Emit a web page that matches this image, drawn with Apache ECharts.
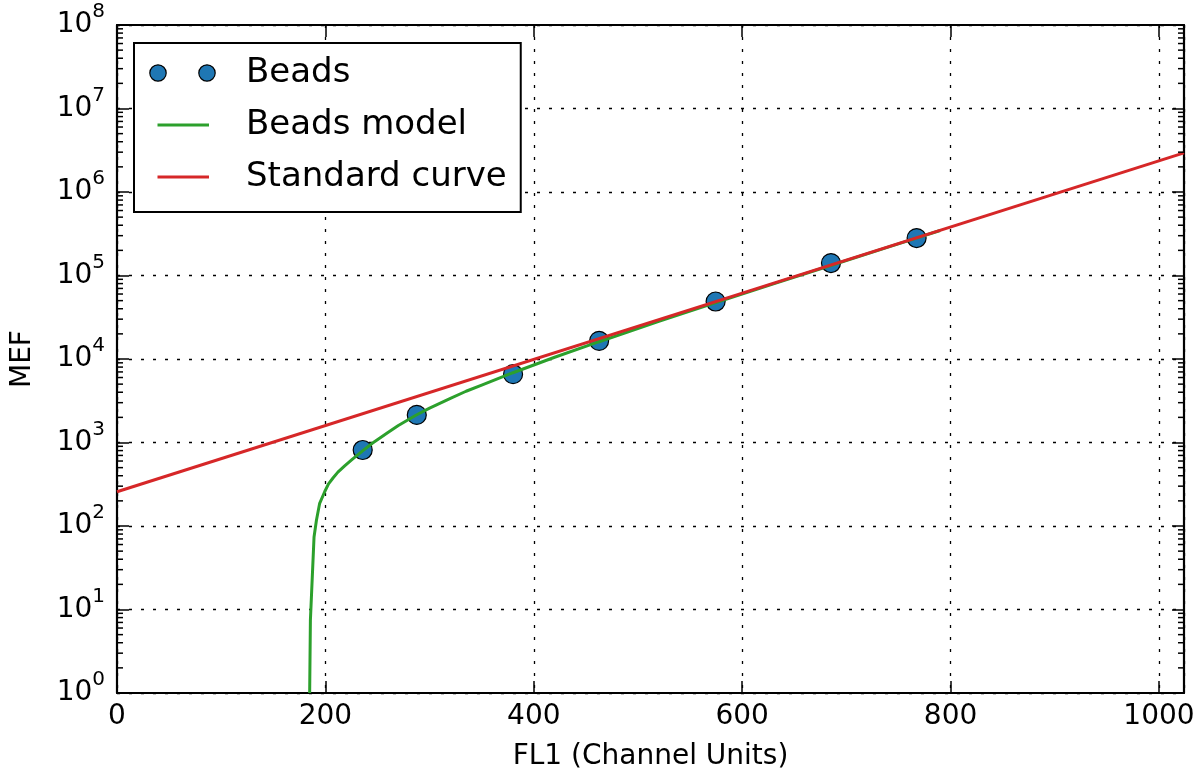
<!DOCTYPE html>
<html>
<head>
<meta charset="utf-8">
<title>Bead calibration</title>
<script src="https://cdn.jsdelivr.net/npm/echarts@6/dist/echarts.min.js"></script>
<style>
  html, body { margin: 0; padding: 0; background: #fff; }
  #chart { width: 1204px; height: 776px; }
</style>
</head>
<body>
<div id="chart"></div>
<script>
// Calibration beads: measured FL1 channel vs. MEF
const beadsFL1 = [235.8, 287.7, 380.1, 462.7, 574.5, 685.2, 767.4];
const beadsMEF = [813, 2140, 6580, 16500, 48800, 141000, 281000];

// Fitted bead model (includes autofluorescence offset)
const modelFL1 = [184.9, 185.6, 189.1, 191.4, 194.5, 199.3, 203, 207.3, 212, 218.5, 226, 236, 245, 260, 270, 287.7, 300, 320, 335, 350, 380, 420, 462, 520, 574, 630, 685, 740, 790];
const modelMEF = [1, 7.4, 74, 117, 187, 257, 320, 376, 442, 525, 631, 800, 980, 1320, 1600, 2150, 2580, 3370, 4110, 4870, 6850, 10500, 16000, 28200, 47000, 79300, 131800, 218600, 346000];

// Standard curve (straight line on log scale)
const standardFL1 = [0, 1024];
const standardMEF = [257, 2940000];

// Axis ticks
const xTickStep = 200;
const minorMantissas = [2, 3, 4, 5, 6, 7, 8, 9];
const decadeExponents = [0, 1, 2, 3, 4, 5, 6, 7];

const FONT = 'DejaVu Sans';
const BLUE = '#1f77b4', GREEN = '#2ca02c', RED = '#d62728';

const zip = (xs, ys) => xs.map((x, i) => [x, ys[i]]);

const minorTickValues = [];
decadeExponents.forEach(e => minorMantissas.forEach(m => minorTickValues.push([0, m * Math.pow(10, e)])));

function svgIcon(body) {
  const svg = '<svg xmlns="http://www.w3.org/2000/svg" width="68" height="18" viewBox="0 0 68 18">' + body + '</svg>';
  return 'image://data:image/svg+xml;charset=utf-8,' + encodeURIComponent(svg);
}
const beadsIcon = svgIcon(
  '<circle cx="9" cy="9" r="8.2" fill="' + BLUE + '" stroke="#000" stroke-width="1.2"/>' +
  '<circle cx="58" cy="9" r="8.2" fill="' + BLUE + '" stroke="#000" stroke-width="1.2"/>');
const modelIcon = svgIcon('<line x1="8.5" y1="9" x2="60" y2="9" stroke="' + GREEN + '" stroke-width="3"/>');
const stdIcon = svgIcon('<line x1="8.5" y1="9" x2="60" y2="9" stroke="' + RED + '" stroke-width="3"/>');

const gridLine = { show: true, lineStyle: { color: '#000', width: 1.3, type: [3, 9] } };
const frameLine = { show: true, onZero: false, lineStyle: { color: '#000', width: 2.2 } };
const majorTick = { show: true, inside: true, length: 12, lineStyle: { color: '#000', width: 1.5 } };

const chart = echarts.init(document.getElementById('chart'), null, { renderer: 'canvas' });

chart.setOption({
  animation: false,
  backgroundColor: '#fff',
  textStyle: { fontFamily: FONT },
  grid: { left: 117, right: 20, top: 25, bottom: 83, containLabel: false, outerBoundsMode: 'none' },
  xAxis: [
    {
      type: 'value', min: 0, max: 1024, interval: xTickStep, position: 'bottom',
      name: 'FL1 (Channel Units)', nameLocation: 'middle', nameGap: 50,
      nameTextStyle: { fontSize: 28, color: '#000', fontFamily: FONT },
      axisLine: frameLine, axisTick: majorTick, splitLine: gridLine,
      axisLabel: { fontSize: 28, color: '#000', fontFamily: FONT, margin: 10, showMaxLabel: false, formatter: v => String(v) }
    },
    {
      type: 'value', min: 0, max: 1024, interval: xTickStep, position: 'top',
      axisLine: frameLine, axisTick: majorTick, splitLine: { show: false }, axisLabel: { show: false }
    }
  ],
  yAxis: [
    {
      type: 'log', logBase: 10, min: 1, max: 1e8, interval: 1, position: 'left',
      name: 'MEF', nameLocation: 'middle', nameGap: 80, nameRotate: 90,
      nameTextStyle: { fontSize: 28, color: '#000', fontFamily: FONT },
      axisLine: frameLine, axisTick: majorTick, splitLine: gridLine,
      axisLabel: {
        margin: 12, color: '#000', fontFamily: FONT,
        formatter: v => '{b|10}{e|' + Math.round(Math.log10(v)) + '}',
        rich: {
          b: { fontSize: 28, fontFamily: FONT, color: '#000' },
          e: { fontSize: 20, fontFamily: FONT, color: '#000', padding: [0, 0, 26, 0] }
        }
      }
    },
    {
      type: 'log', logBase: 10, min: 1, max: 1e8, interval: 1, position: 'right',
      axisLine: frameLine, axisTick: majorTick, splitLine: { show: false }, axisLabel: { show: false }
    }
  ],
  legend: {
    orient: 'vertical', left: 134, top: 43,
    padding: [10, 14, 15, 15], itemGap: 12,
    itemWidth: 68, itemHeight: 18,
    backgroundColor: '#fff', borderColor: '#000', borderWidth: 2, borderRadius: 0,
    textStyle: { fontSize: 34, lineHeight: 40, color: '#000', fontFamily: FONT, padding: [0, 0, 0, 24] },
    selectedMode: false,
    data: [
      { name: 'Beads', icon: beadsIcon },
      { name: 'Beads model', icon: modelIcon },
      { name: 'Standard curve', icon: stdIcon }
    ]
  },
  series: [
    {
      name: 'minor ticks', type: 'custom', silent: true, z: 5,
      xAxisIndex: 0, yAxisIndex: 0,
      data: minorTickValues,
      renderItem: (params, api) => {
        const cs = params.coordSys;
        const y = api.coord([0, api.value(1)])[1];
        const st = { stroke: '#000', lineWidth: 1.5 };
        return {
          type: 'group',
          children: [
            { type: 'line', shape: { x1: cs.x, y1: y, x2: cs.x + 6, y2: y }, style: st },
            { type: 'line', shape: { x1: cs.x + cs.width - 6, y1: y, x2: cs.x + cs.width, y2: y }, style: st }
          ]
        };
      }
    },
    {
      name: 'Beads', type: 'scatter', data: zip(beadsFL1, beadsMEF),
      symbolSize: 19, z: 2,
      itemStyle: { color: BLUE, borderColor: '#000', borderWidth: 1.2, opacity: 1 }
    },
    {
      name: 'Beads model', type: 'line', data: zip(modelFL1, modelMEF),
      showSymbol: false, symbol: 'none', z: 3,
      lineStyle: { color: GREEN, width: 3 }, itemStyle: { color: GREEN }
    },
    {
      name: 'Standard curve', type: 'line', data: zip(standardFL1, standardMEF),
      showSymbol: false, symbol: 'none', z: 4,
      lineStyle: { color: RED, width: 3 }, itemStyle: { color: RED }
    }
  ]
});
</script>
</body>
</html>
